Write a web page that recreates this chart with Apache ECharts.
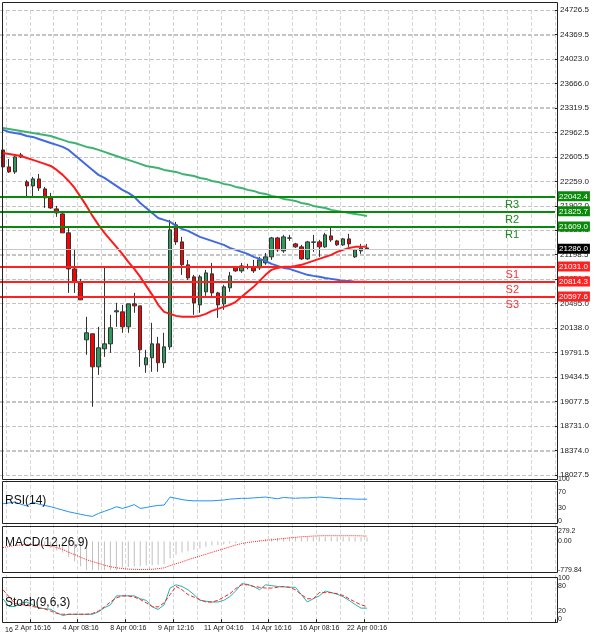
<!DOCTYPE html>
<html>
<head>
<meta charset="utf-8">
<script src="https://cdn.jsdelivr.net/npm/echarts@6/dist/echarts.min.js"></script>
<style>
html, body { margin: 0; padding: 0; background: #fff; }
#chart { width: 600px; height: 636px; }
</style>
</head>
<body>
<div id="chart"></div>
<script>
// candles: [open, close, low, high]
var candles = [
    [22710, 22466, 22423, 22740], [22466, 22394, 22380, 22581], [22394, 22610, 22366, 22624], [22610, 22639, 22596, 22668],
    [22250, 22192, 22034, 22279], [22192, 22293, 22020, 22322], [22293, 22163, 22120, 22365], [22149, 22020, 21875, 22178],
    [22020, 21875, 21861, 22092], [21861, 21803, 21746, 21904], [21789, 21516, 21516, 21803], [21516, 20997, 20651, 21602],
    [20997, 20810, 20651, 21285], [20796, 20551, 20551, 20853], [19975, 20076, 19759, 20306], [20062, 19586, 19010, 20062],
    [19586, 19860, 19471, 20162], [19845, 19917, 19730, 21026], [19917, 20148, 19788, 20335], [20378, 20393, 20162, 20507],
    [20378, 20162, 20076, 20478], [20162, 20493, 20076, 20493], [20493, 20464, 20364, 20651], [20464, 19831, 19586, 20464],
    [19615, 19716, 19500, 19831], [19716, 19917, 19514, 20220], [19917, 19644, 19514, 20018], [19644, 19874, 19571, 20076],
    [19874, 21559, 19831, 21703], [21631, 21386, 21343, 21674], [21386, 21055, 20910, 21458], [21055, 20867, 20839, 21127],
    [20882, 20507, 20335, 20910], [20478, 20882, 20364, 20910], [20666, 20939, 20608, 20982], [20925, 20651, 20594, 21083],
    [20651, 20478, 20291, 20666], [20493, 20738, 20407, 20767], [20724, 20896, 20666, 20954], [21026, 20968, 20954, 21040],
    [20968, 21040, 20939, 21083], [21026, 21030, 20990, 21070], [21026, 20968, 20939, 21127], [21011, 21127, 20982, 21170],
    [21083, 21170, 21055, 21227], [21170, 21443, 21127, 21458], [21443, 21271, 21242, 21458], [21256, 21458, 21228, 21487],
    [21443, 21440, 21400, 21487], [21357, 21314, 21299, 21372], [21314, 21141, 21127, 21343], [21141, 21386, 21127, 21400],
    [21386, 21380, 21242, 21487], [21386, 21314, 21170, 21415], [21314, 21487, 21299, 21516], [21472, 21415, 21386, 21602],
    [21400, 21343, 21328, 21415], [21343, 21429, 21328, 21443], [21429, 21357, 21314, 21501], [21170, 21271, 21155, 21285],
    [21256, 21299, 21213, 21357], [21299, 21286, 21271, 21357]
];
var maRed = [22667, 22653, 22639, 22624, 22595, 22567, 22538, 22509, 22480, 22423, 22351, 22264, 22163, 22034, 21904, 21760,
    21631, 21516, 21415, 21314, 21213, 21098, 20997, 20882, 20752, 20623, 20479, 20378, 20349, 20320, 20306, 20306,
    20306, 20320, 20349, 20392, 20421, 20450, 20479, 20522, 20594, 20666, 20738, 20824, 20911, 20983, 21011, 21026,
    21026, 21040, 21055, 21083, 21112, 21141, 21170, 21199, 21242, 21271, 21299, 21314, 21314, 21320];
var maBlue = [22999, 22970, 22955, 22941, 22912, 22898, 22869, 22840, 22811, 22783, 22754, 22711, 22639, 22567, 22495, 22423,
    22351, 22307, 22250, 22192, 22135, 22091, 22034, 21947, 21875, 21803, 21731, 21703, 21674, 21616, 21573, 21544,
    21501, 21458, 21429, 21400, 21371, 21343, 21299, 21271, 21242, 21213, 21170, 21141, 21112, 21069, 21040, 21011,
    20997, 20968, 20939, 20911, 20896, 20882, 20867, 20853, 20839, 20824, 20824, 20810, 20810, 20810];
var maGreen = [23027, 23013, 22999, 22984, 22970, 22955, 22941, 22927, 22912, 22883, 22855, 22826, 22811, 22783, 22754, 22739,
    22711, 22682, 22653, 22624, 22595, 22567, 22538, 22509, 22480, 22466, 22451, 22423, 22408, 22394, 22365, 22351,
    22336, 22307, 22293, 22264, 22250, 22221, 22207, 22178, 22163, 22135, 22120, 22091, 22077, 22048, 22034, 22005,
    21991, 21976, 21947, 21933, 21904, 21890, 21875, 21847, 21832, 21818, 21803, 21789, 21775, 21760];
var rsi = [41, 43, 45, 40, 36, 45, 40, 37, 34, 30, 26, 22, 19, 16, 13, 11, 18, 23, 28, 34, 30, 34, 39, 30, 32, 35, 37, 38,
    57, 54, 51, 49, 48, 48, 48, 48, 49, 50, 52, 53, 54, 54, 55, 56, 57, 55, 53, 56, 55, 54, 55, 55, 56, 57, 56, 55, 54, 53,
    53, 52, 52, 52];
var macdHist = [-40, -30, -20, -20, -30, -60, -90, -130, -170, -240, -300, -424, -550, -680, -780, -800, -805, -805, -800,
    -797, -720, -700, -680, -680, -660, -650, -640, -620, -466, -365, -300, -270, -237, -195, -144, -110, -95, -85, -60,
    -42, -17, -5, 0, 42, 68, 85, 95, 100, 105, 110, 115, 120, 125, 127, 127, 125, 125, 127, 125, 120, 115, 110];
var macdSignal = [-170, -140, -110, -95, -85, -85, -95, -110, -127, -170, -220, -297, -360, -430, -500, -551, -600, -650,
    -690, -720, -740, -755, -763, -765, -765, -760, -745, -720, -661, -610, -560, -500, -450, -400, -350, -300, -250, -200,
    -150, -100, -59, -30, -10, 10, 30, 42, 60, 80, 95, 110, 127, 135, 145, 153, 155, 155, 155, 155, 155, 155, 150, 145];
var stochMain = [50, 31, 31, 39, 42, 35, 27, 26, 24, 16, 9, 12, 12, 12, 12, 12, 18, 28, 35, 57, 57, 57, 57, 50, 46, 30, 24,
    35, 76, 84, 80, 72, 60, 46, 44, 42, 42, 46, 55, 69, 87, 85, 80, 72, 84, 82, 80, 79, 78, 78, 60, 42, 50, 57, 69, 65, 61,
    55, 46, 36, 27, 27];
var stochSignal = [72, 55, 38, 36, 34, 31, 28, 25, 20, 14, 12, 12, 12, 12, 12, 14, 20, 30, 42, 52, 57, 57, 54, 48, 40, 31,
    30, 40, 60, 80, 72, 60, 54, 48, 42, 42, 46, 54, 62, 75, 84, 84, 80, 78, 76, 76, 78, 80, 78, 72, 60, 50, 50, 65, 65, 65,
    62, 58, 50, 42, 35, 31];
var xLabels = ['2 Apr 16:16', '4 Apr 08:16', '8 Apr 00:16', '9 Apr 12:16', '11 Apr 04:16', '14 Apr 16:16', '16 Apr 08:16', '22 Apr 00:16'];
var priceTicks = ['18027.5', '18374.0', '18731.0', '19077.5', '19434.5', '19791.5', '20138.0', '20495.0', '20851.5', '21198.5',
    '21555.5', '21902.0', '22259.0', '22605.5', '22962.5', '23319.5', '23666.0', '24023.0', '24369.5', '24726.5'];
var levelNames = ['R3', 'R2', 'R1', 'S1', 'S2', 'S3'];
var levelValues = [22042.4, 21825.7, 21609.0, 21031.0, 20814.3, 20597.6];
var lastPrice = 21286.0;

var slotCount = 93;
var categories = [];
for (var i = 0; i < slotCount; i++) {
    var k = (i - 5) / 8;
    categories.push(i >= 5 && k === Math.floor(k) && xLabels[k] ? xLabels[k] : '');
}

var pLo = 18027.5, pHi = 24726.5, pStep = (pHi - pLo) / 19;

var myChart = echarts.init(document.getElementById('chart'));

var grids = [
    {left: 0, right: 45, top: 10, height: 465},
    {left: 0, right: 45, top: 479, height: 42},
    {left: 0, right: 45, top: 524, height: 46},
    {left: 0, right: 45, top: 575, height: 45}
];

var font = 'Liberation Sans';

function xAxisFor(idx, showLabels) {
    return {
        type: 'category',
        gridIndex: idx,
        data: categories,
        boundaryGap: true,
        axisLine: {show: false},
        axisTick: {show: showLabels, interval: function (i) { return categories[i] !== ''; }, length: 3, lineStyle: {color: '#222'}},
        axisLabel: {show: showLabels, interval: 0, fontSize: 7, color: '#222', fontFamily: font, margin: 5},
        splitLine: {show: true, interval: function (i) { return i % 4 === 1; },
            lineStyle: {color: '#d8d8d8', type: 'dashed', width: 1}}
    };
}

function smallAxis(idx, min, max, ticks, fmt) {
    return {
        type: 'value', gridIndex: idx, position: 'right', min: min, max: max,
        axisLine: {show: false},
        axisTick: {show: false},
        axisLabel: {customValues: ticks, fontSize: 7, color: '#222', margin: 3,
            formatter: fmt || function (v) { return String(v); }},
        splitLine: {show: false}
    };
}

var levelLines = [];
levelValues.forEach(function (v, i) {
    var col = i < 3 ? '#0a8a0a' : '#ff2020';
    levelLines.push({
        yAxis: v,
        lineStyle: {color: col, width: 2, type: 'solid'},
        label: {show: true, position: 'end', distance: 2, formatter: v.toFixed(1), color: '#fff',
            backgroundColor: col, padding: [1, 2], fontSize: 8}
    });
    levelLines.push({
        yAxis: v,
        lineStyle: {color: col, width: 2, type: 'solid'},
        label: {show: true, position: 'insideEndBottom', distance: [36, 3], formatter: levelNames[i],
            color: i < 3 ? '#1a8a1a' : '#ff3030', fontSize: 11}
    });
});
levelLines.push({
    yAxis: lastPrice,
    lineStyle: {color: '#c8c8c8', width: 1, type: 'solid'},
    label: {show: true, position: 'end', distance: 2, formatter: lastPrice.toFixed(1), color: '#fff',
        backgroundColor: '#000', padding: [1, 2], fontSize: 8}
});

// horizontal grid lines at the price ticks, as a separate markLine group
var tickLines = priceTicks.map(function (t) {
    return {yAxis: parseFloat(t)};
});

var hidePt = {symbol: 'none', animation: false};

function frame(top, height) {
    return {type: 'rect', left: 0, top: top, shape: {x: 0.5, y: 0, width: 555, height: height}, silent: true,
        style: {fill: 'none', stroke: '#222', lineWidth: 1}, z: 100};
}

var option = {
    animation: false,
    graphic: [frame(0, 477), frame(479, 42), frame(524, 46), frame(575, 45)],
    title: [
        {text: 'RSI(14)', left: 0, top: 490, textStyle: {fontSize: 12, fontWeight: 'normal', color: '#111'}},
        {text: 'MACD(12,26,9)', left: 0, top: 532, textStyle: {fontSize: 12, fontWeight: 'normal', color: '#111'}},
        {text: 'Stoch(9,6,3)', left: 0, top: 592, textStyle: {fontSize: 12, fontWeight: 'normal', color: '#111'}},
        {text: '16', left: 0, top: 622, textStyle: {fontSize: 7, fontWeight: 'normal', color: '#222', fontFamily: font}}
    ],
    grid: grids,
    xAxis: [xAxisFor(0, false), xAxisFor(1, false), xAxisFor(2, false), xAxisFor(3, true)],
    yAxis: [
        {
            type: 'value', gridIndex: 0, position: 'right', min: pLo, max: pHi, interval: pStep,
            axisLine: {show: false},
            axisTick: {show: true, length: 3, lineStyle: {color: '#222'}},
            axisLabel: {fontSize: 8, color: '#222', margin: 5,
                formatter: function (v) {
                    return priceTicks[Math.round((v - pLo) / pStep)] || '';
                }},
            splitLine: {show: true, lineStyle: {color: '#c4c4c4', type: 'dashed', width: 1}}
        },
        smallAxis(1, 0, 100, [0, 30, 70, 100]),
        smallAxis(2, -779.84, 474, [-779.84, 0, 279.2], function (v) { return v === 0 ? '0.00' : String(v); }),
        smallAxis(3, -2, 108, [0, 20, 80, 100])
    ],
    series: [
        {
            type: 'line', xAxisIndex: 0, yAxisIndex: 0, data: [], symbol: 'none', z: 0,
            markLine: {symbol: 'none', silent: true, animation: false, data: tickLines, z: 0,
                lineStyle: {color: '#c4c4c4', type: 'dashed', width: 1}, label: {show: false}}
        },
        {
            type: 'candlestick', xAxisIndex: 0, yAxisIndex: 0, data: candles, barWidth: 4,
            itemStyle: {color: '#2e9a5c', color0: '#ff0000', borderColor: '#333', borderColor0: '#333', borderWidth: 1},
            markLine: {symbol: 'none', silent: true, data: levelLines, animation: false}
        },
        Object.assign({type: 'line', xAxisIndex: 0, yAxisIndex: 0, data: maGreen, lineStyle: {color: '#3cb371', width: 2}}, hidePt),
        Object.assign({type: 'line', xAxisIndex: 0, yAxisIndex: 0, data: maBlue, lineStyle: {color: '#4169e1', width: 2}}, hidePt),
        Object.assign({type: 'line', xAxisIndex: 0, yAxisIndex: 0, data: maRed, lineStyle: {color: '#ff1a1a', width: 2}}, hidePt),
        Object.assign({type: 'line', xAxisIndex: 1, yAxisIndex: 1, data: rsi, lineStyle: {color: '#1e90ff', width: 1}}, hidePt),
        {type: 'bar', xAxisIndex: 2, yAxisIndex: 2, data: macdHist, barWidth: 1, itemStyle: {color: '#c0c0c0'}},
        Object.assign({type: 'line', xAxisIndex: 2, yAxisIndex: 2, data: macdSignal, lineStyle: {color: '#ff2020', width: 1, type: 'dotted'}}, hidePt),
        Object.assign({type: 'line', xAxisIndex: 3, yAxisIndex: 3, data: stochMain, lineStyle: {color: '#20b2aa', width: 1}}, hidePt),
        Object.assign({type: 'line', xAxisIndex: 3, yAxisIndex: 3, data: stochSignal, lineStyle: {color: '#ff2020', width: 1, type: 'dashed'}}, hidePt)
    ]
};

myChart.setOption(option);
</script>
</body>
</html>
